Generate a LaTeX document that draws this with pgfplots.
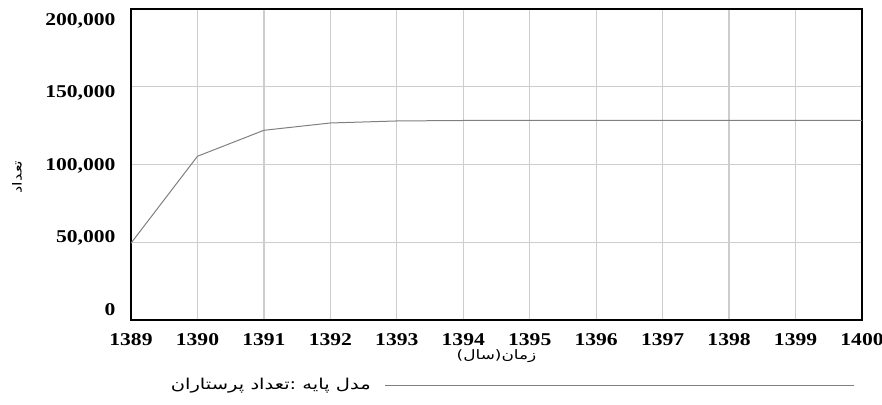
\documentclass[border=0pt]{standalone}
\usepackage{fontspec}
\usepackage{graphicx}
\setmainfont{Liberation Serif}
\newfontfamily\arabicfont[Script=Arabic]{DejaVu Sans}
\TeXXeTstate=1
\newcommand\tl[1]{\scalebox{1.2}[1]{#1}}
\usepackage{pgfplots}
\pgfplotsset{compat=1.18}
\definecolor{gridc}{RGB}{205,205,205}
\definecolor{linec}{RGB}{128,128,128}
\begin{document}
\begin{tikzpicture}
\path[use as bounding box] (-131bp,-85bp) rectangle (751bp,320bp);
\begin{axis}[
  at={(0,0)}, anchor=south west,
  scale only axis, width=731bp, height=311bp,
  xmin=1389, xmax=1400, ymin=0, ymax=200000,
  xtick={1389,1390,1391,1392,1393,1394,1395,1396,1397,1398,1399,1400},
  xticklabels={\tl{1389},\tl{1390},\tl{1391},\tl{1392},\tl{1393},\tl{1394},\tl{1395},\tl{1396},\tl{1397},\tl{1398},\tl{1399},\tl{1400}},
  ytick={0,50000,100000,150000,200000},
  yticklabels={\tl{0},\tl{50,000},\tl{100,000},\tl{150,000},\tl{200,000}},
  grid=major, major grid style={gridc, line width=1.3bp},
  axis line style={black, line width=2.6bp},
  tick style={draw=none},
  scaled y ticks=false,
  ticklabel style={font=\rmfamily\bfseries\fontsize{18bp}{18bp}\selectfont},
  xticklabel style={yshift=-10bp},
  yticklabel style={xshift=-12bp, yshift={10bp-5.5bp*\ticknum}},
  xlabel={\arabicfont\fontsize{13bp}{15bp}\selectfont\scalebox{1.3}[1]{\beginR زمان(سال)\endR}},
  xlabel style={at={(axis description cs:0.5,-0.116)}, anchor=center},
  ylabel={\arabicfont\fontsize{12.5bp}{14bp}\selectfont\scalebox{1.3}[1]{\beginR تعداد\endR}},
  ylabel style={at={(axis description cs:-0.156,0.46)}, anchor=center, rotate=0},
  legend plot pos=right,
  legend image code/.code={\draw[#1] (0bp,0bp) -- (469bp,0bp);},
  legend style={at={(axis description cs:0.9904,-0.209)}, anchor=east, draw=none, fill=none, inner sep=0pt,
    font=\arabicfont\fontsize{15bp}{17bp}\selectfont},
]
\addplot[linec, line width=1bp] coordinates {
  (1389,49400) (1390,105300) (1391,122000) (1392,126700) (1393,128000)
  (1394,128300) (1395,128400) (1396,128400) (1397,128400) (1398,128400)
  (1399,128400) (1400,128400)
};
\addlegendentry{\scalebox{1.3}[1]{\beginR مدل پایه :تعداد پرستاران\endR}\hspace*{12bp}}
\end{axis}
\end{tikzpicture}
\end{document}
